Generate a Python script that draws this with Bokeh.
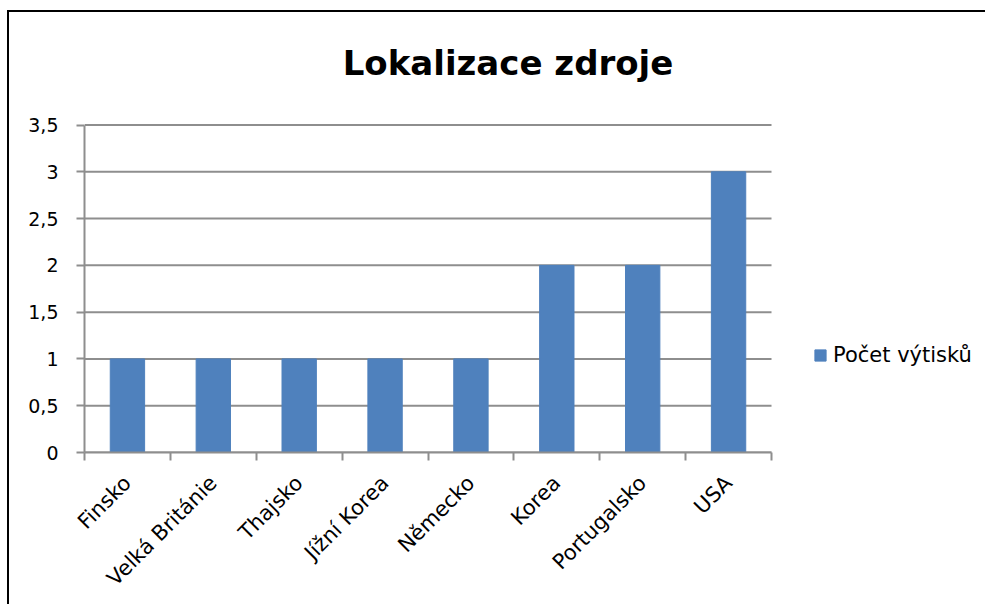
import math
from bokeh.plotting import figure
from bokeh.models import (Range1d, FixedTicker, LinearAxis, CustomJSTickFormatter,
                          Legend, LegendItem, ColumnDataSource, Label)
from bokeh.embed import file_html
from bokeh.resources import INLINE

# ---- data ----
categories = ["Finsko", "Velká Británie", "Thajsko", "Jížní Korea",
              "Německo", "Korea", "Portugalsko", "USA"]
values = [1, 1, 1, 1, 1, 2, 2, 3]
series_name = "Počet výtisků"
chart_title = "Lokalizace zdroje"
y_ticks = [0, 0.5, 1, 1.5, 2, 2.5, 3, 3.5]

# ---- layout (pixels) ----
FONT = "DejaVu Sans"
GRID = "#8E8E8E"
BAR = "#4F81BD"
W, H = 978, 594               # canvas size (page origin at 9,12 after css border)
ORG_X, ORG_Y = 9, 12
PLOT_L, PLOT_R = 84, 771       # page px of the value-axis area
PLOT_T, PLOT_B = 124.5, 452

n = len(categories)
y_max = y_ticks[-1]
centers = [i + 0.5 for i in range(n)]
bounds = [i for i in range(n + 1)]

frame_w = (ORG_X + W) - PLOT_L
frame_h = PLOT_B - ORG_Y
x_end = n * frame_w / (PLOT_R - PLOT_L)
y_end = y_max * frame_h / (PLOT_B - PLOT_T)
px_x = lambda px: (px - PLOT_L) * n / (PLOT_R - PLOT_L)
px_y = lambda py: (PLOT_B - py) * y_max / (PLOT_B - PLOT_T)

src = ColumnDataSource(dict(x=centers, top=values, name=categories))

p = figure(width=W, height=H, output_backend="svg", toolbar_location=None,
           x_range=Range1d(0, x_end), y_range=Range1d(0, y_end),
           x_axis_type=None, y_axis_type=None,
           min_border_left=PLOT_L - ORG_X, min_border_right=0, min_border_top=0,
           min_border_bottom=(ORG_Y + H) - PLOT_B)
p.outline_line_color = None
p.styles = {"border-top": "2px solid black", "border-left": "2px solid black",
            "margin-left": "7px", "margin-top": "10px"}

# gridlines (only across the category area)
p.segment(x0=0, x1=n, y0=y_ticks, y1=y_ticks, line_color=GRID, line_width=2)

# x axis: labels at centers, tick marks at category boundaries
xaxis = LinearAxis(ticker=FixedTicker(ticks=centers, minor_ticks=bounds),
                   formatter=CustomJSTickFormatter(args=dict(names=categories),
                                                   code="return names[Math.floor(tick)]"),
                   bounds=(0, n))
xaxis.major_tick_line_color = None
xaxis.minor_tick_line_color = GRID
xaxis.minor_tick_line_width = 2
xaxis.minor_tick_out = 8
xaxis.minor_tick_in = 0
xaxis.axis_line_color = GRID
xaxis.axis_line_width = 2
xaxis.major_label_orientation = math.pi / 4
xaxis.major_label_text_font = FONT
xaxis.major_label_text_font_size = "21px"
xaxis.major_label_text_color = "black"
xaxis.major_label_standoff = 19
p.add_layout(xaxis, "below")

yaxis = LinearAxis(ticker=FixedTicker(ticks=y_ticks), bounds=(0, y_max),
                   formatter=CustomJSTickFormatter(code="return tick.toString().replace('.', ',')"))
yaxis.major_tick_line_color = GRID
yaxis.major_tick_line_width = 2
yaxis.major_tick_out = 8
yaxis.major_tick_in = 0
yaxis.minor_tick_line_color = None
yaxis.axis_line_color = GRID
yaxis.axis_line_width = 2
yaxis.major_label_text_font = FONT
yaxis.major_label_text_font_size = "19px"
yaxis.major_label_text_color = "black"
yaxis.major_label_standoff = 18
p.add_layout(yaxis, "left")

r = p.vbar(x="x", top="top", width=0.4, source=src, fill_color=BAR, line_color=BAR)

legend = Legend(items=[LegendItem(label=series_name, renderers=[r])],
                location=(813 - PLOT_L, PLOT_B - 367), border_line_color=None,
                background_fill_alpha=0,
                label_text_font=FONT, label_text_font_size="21px",
                label_text_color="black", label_height=20,
                glyph_width=14, glyph_height=14, margin=0, padding=0,
                label_standoff=6)
p.add_layout(legend, "center")

p.add_layout(Label(x=px_x(507.5), y=px_y(62), text=chart_title,
                   text_font=FONT, text_font_size="34px", text_font_style="bold",
                   text_align="center", text_baseline="alphabetic", text_color="black"))

open("out.html", "w").write(file_html(p, INLINE))
